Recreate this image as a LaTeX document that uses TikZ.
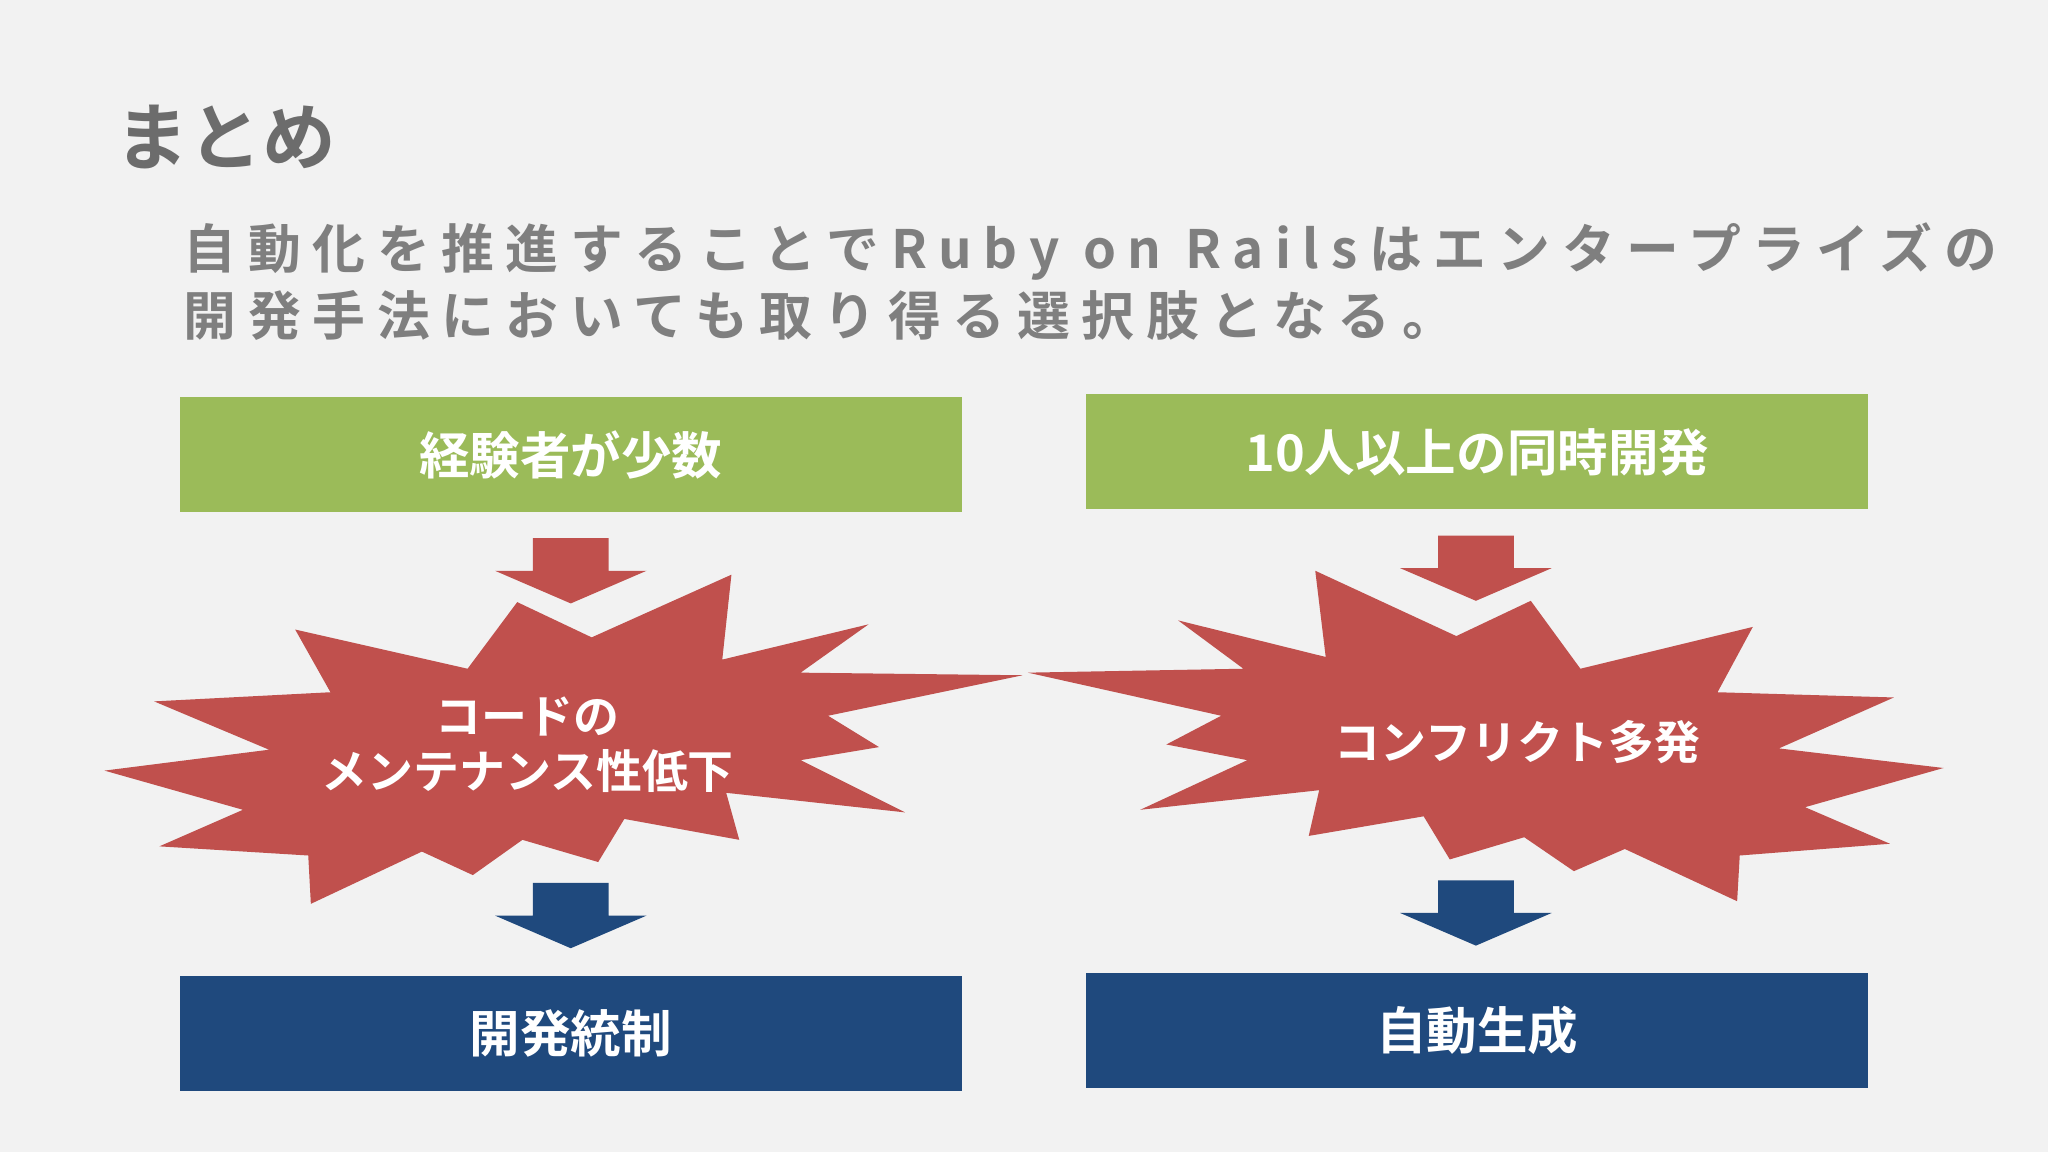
\documentclass[tikz,border=0pt]{standalone}
\usepackage{fontspec}
\setmainfont{Noto Sans CJK JP}[BoldFont={* Bold}]
\newfontfamily\cjkb{Noto Sans CJK JP Bold}
\newfontfamily\cjkls{Noto Sans CJK JP Bold}[LetterSpace=22]
\definecolor{bg}{HTML}{F2F2F2}
\definecolor{gr}{HTML}{9BBB59}
\definecolor{rd}{HTML}{C0504D}
\definecolor{bl}{HTML}{1F497D}
\definecolor{tg}{HTML}{7F7F7F}
\begin{document}
\begin{tikzpicture}[x=0.01cm,y=-0.01cm,
  box/.style={minimum width=5.98cm,minimum height=0.88cm,inner sep=0,text=white,font=\cjkb\fontsize{11}{13}\selectfont},
  burst/.style={fill=rd,draw=none},
  lbl/.style={text=white,font=\cjkb\fontsize{10}{12}\selectfont,align=center}]
\fill[bg] (0,0) rectangle (1568,882);
\node[anchor=west,text=tg!85!black,font=\cjkb\fontsize{16}{18}\selectfont] (title) at (76,105) {まとめ};
\node[anchor=north west,text=tg,align=left,font=\cjkls\fontsize{11.5}{14.5}\selectfont,inner sep=0] (sub) at (140,170) {自動化を推進することでRuby on Railsはエンタープライズの\\開発手法においても取り得る選択肢となる。};
\node[box,fill=gr] (g1) at (437,348) {経験者が少数};
\node[box,fill=gr] (g2) at (1131,346) {10人以上の同時開発};
\node[box,fill=bl] (b1) at (437,791) {開発統制};
\node[box,fill=bl] (b2) at (1131,789) {自動生成};
\fill[burst] (453,488)--(560,440)--(553,505)--(665,478)--(613,515)--(783,517)--(634,548)--(673,572)--(613,582)--(693,622)--(556,607)--(566,643)--(478,627)--(458,660)--(400,643)--(362,670)--(323,652)--(238,692)--(236,655)--(122,648)--(186,620)--(80,590)--(206,574)--(118,537)--(253,530)--(226,482)--(358,512)--(396,461)--cycle;
\fill[burst] (1115,487)--(1007,437)--(1015,503)--(902,475)--(952,512)--(787,515)--(935,548)--(893,570)--(955,582)--(873,620)--(1010,605)--(1002,640)--(1090,625)--(1110,658)--(1167,641)--(1205,667)--(1244,650)--(1330,690)--(1332,655)--(1447,646)--(1382,618)--(1488,588)--(1362,573)--(1450,534)--(1315,530)--(1342,480)--(1210,512)--(1172,460)--cycle;
\node[lbl] (s1) at (404,570) {コードの\\メンテナンス性低下};
\node[lbl] (s2) at (1162,568) {コンフリクト多発};
\foreach \cx/\y/\c in {437/412/rd,1130/410/rd,437/676/bl,1130/674/bl}{
  \fill[\c] (\cx-29,\y)--(\cx+29,\y)--(\cx+29,\y+25)--(\cx+58,\y+25)--(\cx,\y+50)--(\cx-58,\y+25)--(\cx-29,\y+25)--cycle;}
\end{tikzpicture}
\end{document}
